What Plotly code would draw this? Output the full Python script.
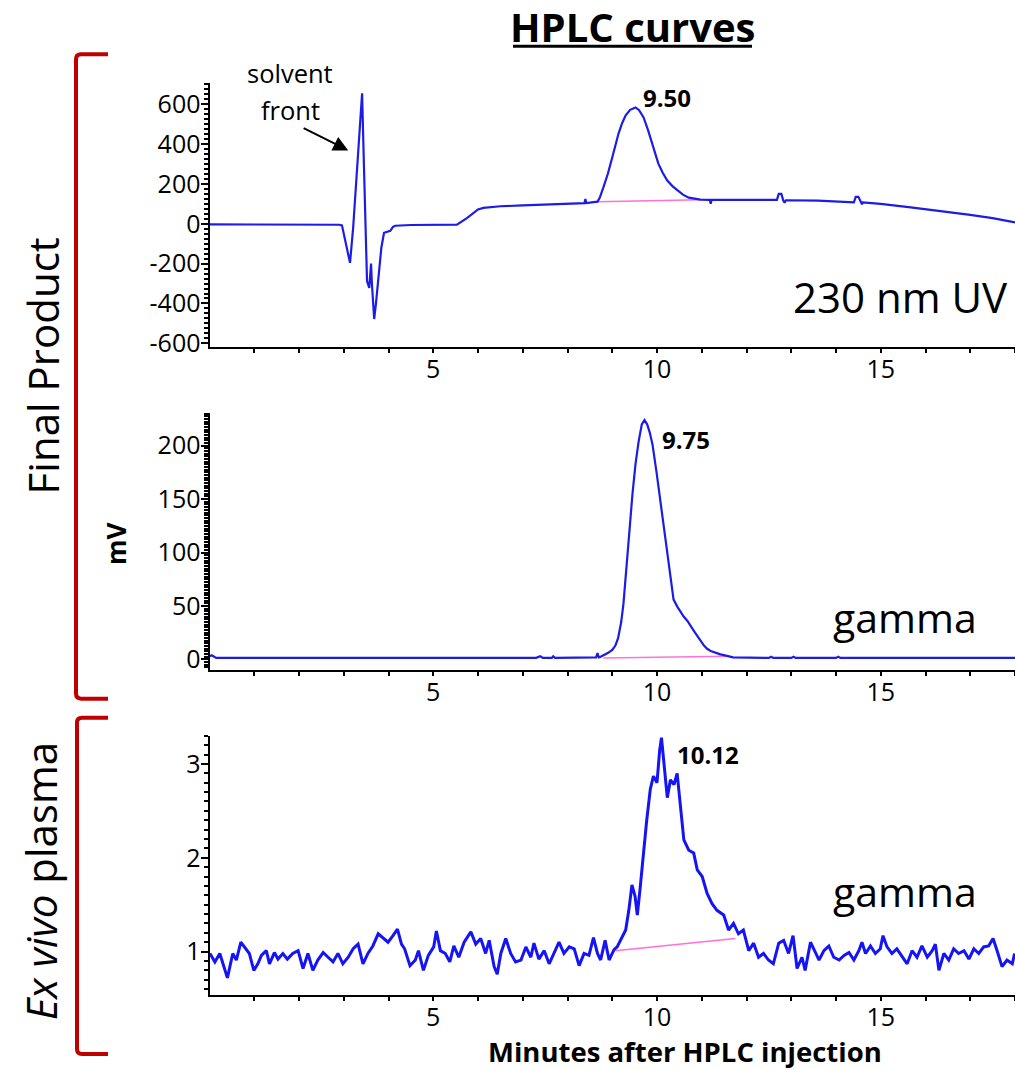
import plotly.graph_objects as go

# ---------------- DATA ----------------
# Panel 1: 230 nm UV trace (final product)
uv_time = [0.0, 1.0, 2.0, 2.9, 2.96, 3.05, 3.14, 3.21, 3.30, 3.41, 3.45, 3.48, 3.52, 3.57,
           3.60, 3.61, 3.63, 3.68, 3.72, 3.77, 3.84, 3.90, 4.04, 4.10, 4.15, 4.50, 5.00,
           5.53, 5.76, 6.00, 6.12, 6.50, 7.00, 7.50, 8.00, 8.38, 8.40, 8.42, 8.67, 8.72,
           8.80, 8.90, 9.00, 9.07, 9.14, 9.22, 9.30, 9.40, 9.52, 9.60, 9.70, 9.80, 9.89,
           9.96, 10.03, 10.13, 10.23, 10.35, 10.46, 10.58, 10.71, 10.85, 10.97, 11.18,
           11.20, 11.22, 12.00, 12.68, 12.72, 12.78, 12.82, 12.85, 12.88, 13.60, 14.40,
           14.44, 14.50, 14.55, 14.58, 14.60, 15.00, 15.67, 16.34, 17.00, 17.50, 18.00]
uv_signal = [-3, -3, -4, -5, -8, -100, -196, -20, 300, 655, 300, -20, -287, -322,
             -240, -200, -302, -478, -400, -287, -120, -45, -35, -15, -10, -6, -5,
             -4, 30, 72, 80, 88, 92, 96, 100, 104, 125, 104, 111, 130,
             181, 250, 333, 395, 453, 505, 544, 572, 584, 570, 534, 470, 403,
             350, 302, 255, 217, 188, 166, 146, 131, 125, 121, 120,
             100, 120, 120, 120, 150, 150, 118, 105, 118, 116, 108,
             135, 135, 107, 98, 107, 100, 82, 65, 45, 28, 7]
uv_base_time = [8.67, 10.97]
uv_base_val = [111, 121]
uv_tick_vals = [-600, -400, -200, 0, 200, 400, 600]
uv_tick_text = ["-600", "-400", "-200", "0", "200", "400", "600"]

# Panel 2: gamma trace (final product)
g1_time = [0.0, 0.05, 0.15, 2.0, 5.0, 7.30, 7.39, 7.45, 7.65, 7.68, 7.72, 8.50, 8.64, 8.67,
           8.70, 8.74, 8.90, 9.00, 9.07, 9.13, 9.20, 9.25, 9.30, 9.37, 9.45, 9.52, 9.59,
           9.62, 9.66, 9.72, 9.78, 9.84, 9.90, 9.99, 10.08, 10.15, 10.23, 10.30, 10.37,
           10.46, 10.52, 10.60, 10.68, 10.75, 10.82, 10.90, 10.98, 11.05, 11.12, 11.20,
           11.40, 11.60, 11.70, 12.50, 12.55, 12.60, 13.00, 13.05, 13.10, 14.00, 14.05,
           14.10, 18.0]
g1_signal = [3, 4, 1.5, 1.5, 1.5, 1.5, 3, 1.5, 1.5, 3, 1.5, 1.5, 2, 6,
             2, 2.5, 6, 9, 13, 20, 35, 52, 75, 113, 154, 183, 204,
             212, 220, 224, 220, 212, 201, 175, 147, 122, 98, 76, 56,
             49, 45, 40, 36, 32, 27, 22, 17, 13, 10, 8,
             5, 3, 2, 1.5, 2.5, 1.5, 1.5, 2.5, 1.5, 1.5, 2.5,
             1.5, 1.5]
g1_base_time = [8.80, 11.60]
g1_base_val = [1.5, 3.0]

# Panel 3: gamma trace (ex vivo plasma)
g2_time = [0.01, 0.12, 0.23, 0.30, 0.40, 0.52, 0.60, 0.70, 0.78, 0.89, 0.99, 1.08, 1.16, 1.27,
           1.34, 1.45, 1.53, 1.64, 1.74, 1.86, 1.98, 2.09, 2.20, 2.31, 2.42, 2.54, 2.65, 2.76,
           2.87, 2.98, 3.10, 3.21, 3.32, 3.43, 3.54, 3.65, 3.77, 3.88, 3.99, 4.10, 4.20, 4.29,
           4.36, 4.48, 4.60, 4.67, 4.78, 4.89, 5.01, 5.07, 5.16, 5.27, 5.37, 5.46, 5.57, 5.69,
           5.84, 5.95, 6.06, 6.17, 6.25, 6.36, 6.43, 6.51, 6.62, 6.73, 6.84, 6.96, 7.07, 7.18,
           7.25, 7.36, 7.48, 7.59, 7.70, 7.81, 7.92, 8.04, 8.15, 8.26, 8.37, 8.48, 8.58, 8.67,
           8.74, 8.84, 8.93, 9.04, 9.11, 9.22, 9.30, 9.37, 9.44, 9.51, 9.56, 9.62, 9.70, 9.77,
           9.85, 9.92, 10.00, 10.06, 10.10, 10.15, 10.23, 10.30, 10.38, 10.45, 10.52, 10.60,
           10.71, 10.82, 10.90, 11.01, 11.12, 11.23, 11.34, 11.49, 11.60, 11.71, 11.82, 11.93,
           12.05, 12.16, 12.27, 12.38, 12.49, 12.60, 12.72, 12.83, 12.94, 13.04, 13.13, 13.24,
           13.31, 13.43, 13.55, 13.62, 13.73, 13.84, 13.95, 14.07, 14.18, 14.29, 14.40, 14.51,
           14.58, 14.66, 14.77, 14.88, 14.99, 15.05, 15.14, 15.25, 15.36, 15.48, 15.59, 15.70,
           15.81, 15.92, 16.04, 16.15, 16.22, 16.30, 16.41, 16.52, 16.63, 16.74, 16.86, 16.97,
           17.08, 17.19, 17.30, 17.41, 17.51, 17.60, 17.71, 17.82, 17.94, 17.99]
g2_signal = [0.98, 0.89, 0.98, 0.87, 0.72, 0.98, 0.91, 1.10, 1.05, 0.98, 0.80, 0.87, 0.96, 1.01,
             0.87, 0.99, 0.92, 0.98, 0.92, 0.98, 1.01, 0.82, 0.98, 0.80, 0.91, 0.99, 0.94, 0.89,
             0.98, 0.87, 0.94, 1.03, 1.08, 0.87, 0.98, 1.06, 1.19, 1.14, 1.10, 1.17, 1.24, 1.08,
             1.03, 0.85, 0.91, 1.01, 0.80, 0.96, 1.05, 1.22, 1.01, 0.98, 0.89, 1.06, 0.94, 1.10,
             1.21, 1.08, 1.14, 0.98, 1.12, 0.84, 0.76, 0.98, 1.14, 0.98, 0.89, 0.91, 1.05, 0.94,
             1.09, 0.92, 1.01, 0.87, 0.98, 1.10, 0.98, 1.05, 1.03, 0.85, 0.98, 0.96, 1.15, 0.98,
             0.91, 1.12, 0.91, 1.02, 1.05, 1.16, 1.23, 1.44, 1.71, 1.59, 1.39, 1.66, 2.08, 2.40,
             2.73, 2.87, 2.80, 3.15, 3.28, 3.05, 2.64, 2.83, 2.78, 2.90, 2.58, 2.19,
             2.08, 2.05, 1.87, 1.80, 1.62, 1.51, 1.44, 1.39, 1.23, 1.30, 1.19, 1.23,
             1.01, 1.09, 0.94, 0.98, 0.91, 0.87, 1.09, 1.12, 0.98, 1.17, 0.82, 0.94,
             0.80, 1.10, 0.98, 0.91, 1.01, 1.06, 0.94, 0.91, 0.96, 0.99, 0.91, 1.01,
             1.10, 0.98, 1.06, 0.98, 1.03, 1.17, 1.05, 0.98, 1.03, 0.94, 0.87, 1.01,
             0.94, 1.06, 0.94, 1.01, 1.08, 0.80, 0.98, 0.91, 1.03, 0.98, 1.01, 0.92,
             1.03, 0.98, 1.05, 1.06, 1.14, 1.01, 0.84, 0.91, 0.87, 0.98]
g2_base_time = [9.07, 11.75]
g2_base_val = [1.01, 1.14]

x_tick_vals = [5, 10, 15]
x_tick_text = ["5", "10", "15"]

# ---------------- LAYOUT HELPERS ----------------
W, H = 1015, 1070
H_EFF = 1054  # observed rendered paper height in the screenshot


def px(x):
    return x / W


def py(y):
    return 1 - y / H_EFF


FONT = "Open Sans"
BLUE = "#1c1ce6"
BLUE3 = "#1414f5"
PINK = "#ff70d8"
RED = "#c00000"

fig = go.Figure()

fig.add_trace(go.Scatter(x=uv_base_time, y=uv_base_val, mode="lines",
                         line=dict(color=PINK, width=1.5), xaxis="x", yaxis="y", showlegend=False))
fig.add_trace(go.Scatter(x=uv_time, y=uv_signal, mode="lines",
                         line=dict(color=BLUE, width=2.2), xaxis="x", yaxis="y", showlegend=False))
fig.add_trace(go.Scatter(x=g1_base_time, y=g1_base_val, mode="lines",
                         line=dict(color=PINK, width=1.5), xaxis="x2", yaxis="y2", showlegend=False))
fig.add_trace(go.Scatter(x=g1_time, y=g1_signal, mode="lines",
                         line=dict(color=BLUE, width=2.2), xaxis="x2", yaxis="y2", showlegend=False))
fig.add_trace(go.Scatter(x=g2_base_time, y=g2_base_val, mode="lines",
                         line=dict(color=PINK, width=1.5), xaxis="x3", yaxis="y3", showlegend=False))
fig.add_trace(go.Scatter(x=g2_time, y=g2_signal, mode="lines",
                         line=dict(color=BLUE3, width=3), xaxis="x3", yaxis="y3", showlegend=False))

xdom = [px(209.5), 1.0]
common_x = dict(domain=xdom, range=[0, 18], showline=True, linewidth=2, linecolor="black",
                showgrid=False, zeroline=False, ticks="outside", ticklen=4, tickwidth=2,
                tickcolor="black", tickmode="array", tickvals=x_tick_vals, ticktext=x_tick_text,
                ticklabelstandoff=-5,
                minor=dict(tickmode="array", tickvals=list(range(1, 19)), ticks="outside",
                           ticklen=4, tickwidth=2, tickcolor="black", showgrid=False),
                tickfont=dict(family=FONT, size=25, color="black"))
common_y = dict(showline=True, linewidth=2, linecolor="black", showgrid=False, zeroline=False,
                ticks="outside", ticklen=7, tickwidth=2, tickcolor="black",
                ticklabelstandoff=-5,
                tickfont=dict(family=FONT, size=25, color="black"))

fig.update_layout(
    width=W, height=H, margin=dict(l=0, r=0, t=0, b=0),
    paper_bgcolor="white", plot_bgcolor="white",
    xaxis=dict(common_x, anchor="y"),
    xaxis2=dict(common_x, anchor="y2"),
    xaxis3=dict(common_x, anchor="y3"),
    yaxis=dict(common_y, anchor="x", domain=[py(346), py(83)], range=[-620, 705],
               tickmode="array", tickvals=uv_tick_vals, ticktext=uv_tick_text,
               minor=dict(tickmode="linear", tick0=0, dtick=25, ticks="outside", ticklen=4,
                          tickwidth=1.5, tickcolor="black")),
    yaxis2=dict(common_y, anchor="x2", domain=[py(667), py(411)], range=[-9.4, 231],
                tickmode="linear", tick0=0, dtick=50,
                minor=dict(dtick=2.5, ticks="outside", ticklen=4, tickwidth=1.5, tickcolor="black")),
    yaxis3=dict(common_y, anchor="x3", domain=[py(991), py(733)], range=[0.54, 3.30],
                tickmode="linear", tick0=0, dtick=1,
                minor=dict(dtick=0.1, ticks="outside", ticklen=4, tickwidth=1.5, tickcolor="black")),
)

ann = []
# Title
ann.append(dict(text="<b>HPLC curves</b>", x=px(633), y=py(26.5), xref="paper", yref="paper",
                showarrow=False, font=dict(family=FONT, size=40, color="black"),
                xanchor="center", yanchor="middle"))
# Side labels
ann.append(dict(text="Final Product", x=px(42), y=py(365), xref="paper", yref="paper",
                showarrow=False, textangle=-90, font=dict(family=FONT, size=42, color="black"),
                xanchor="center", yanchor="middle"))
ann.append(dict(text="<i>Ex vivo</i> plasma", x=px(40), y=py(878), xref="paper", yref="paper",
                showarrow=False, textangle=-90, font=dict(family=FONT, size=42, color="black"),
                xanchor="center", yanchor="middle"))
ann.append(dict(text="<b>mV</b>", x=px(116), y=py(542), xref="paper", yref="paper",
                showarrow=False, textangle=-90, font=dict(family=FONT, size=26, color="black"),
                xanchor="center", yanchor="middle"))
ann.append(dict(text="<b>Minutes after HPLC injection</b>", x=px(685), y=py(1048), xref="paper",
                yref="paper", showarrow=False, font=dict(family=FONT, size=27.5, color="black"),
                xanchor="center", yanchor="middle"))
# Panel 1 labels
ann.append(dict(text="solvent", x=px(290), y=py(73), xref="paper", yref="paper", showarrow=False,
                xanchor="center", yanchor="middle",
                font=dict(family=FONT, size=25.5, color="black")))
ann.append(dict(text="front", x=px(290), y=py(110), xref="paper", yref="paper", showarrow=False,
                xanchor="center", yanchor="middle",
                font=dict(family=FONT, size=25.5, color="black")))
ann.append(dict(text="", x=3.10, y=368, ax=2.07, ay=484, xref="x", yref="y", axref="x",
                ayref="y", showarrow=True, arrowhead=2, arrowsize=1.5, arrowwidth=2,
                arrowcolor="black", standoff=0, startstandoff=0))
ann.append(dict(text="<b>9.50</b>", x=10.23, y=635, xref="x", yref="y", showarrow=False,
                font=dict(family=FONT, size=24, color="black")))
ann.append(dict(text="230 nm UV", x=px(1010), y=py(295), xref="paper", yref="paper",
                showarrow=False, xanchor="right", yanchor="middle",
                font=dict(family=FONT, size=42, color="black")))
# Panel 2 labels
ann.append(dict(text="<b>9.75</b>", x=10.64, y=206, xref="x2", yref="y2", showarrow=False,
                font=dict(family=FONT, size=24, color="black")))
ann.append(dict(text="gamma", x=15.54, y=40, xref="x2", yref="y2", showarrow=False,
                font=dict(family=FONT, size=41, color="black")))
# Panel 3 labels
ann.append(dict(text="<b>10.12</b>", x=11.15, y=3.10, xref="x3", yref="y3", showarrow=False,
                font=dict(family=FONT, size=24, color="black")))
ann.append(dict(text="gamma", x=15.54, y=1.65, xref="x3", yref="y3", showarrow=False,
                font=dict(family=FONT, size=41, color="black")))
fig.update_layout(annotations=ann)


def bracket(xv, y0, y1, xend, r=5):
    return (f"M {px(xend)},{py(y0)} L {px(xv + r)},{py(y0)} "
            f"Q {px(xv)},{py(y0)} {px(xv)},{py(y0 + r)} "
            f"L {px(xv)},{py(y1 - r)} "
            f"Q {px(xv)},{py(y1)} {px(xv + r)},{py(y1)} L {px(xend)},{py(y1)}")


shapes = [
    dict(type="path", xref="paper", yref="paper", path=bracket(76, 54, 696, 108),
         line=dict(color=RED, width=4)),
    dict(type="path", xref="paper", yref="paper", path=bracket(77, 715, 1050, 108),
         line=dict(color=RED, width=4)),
    dict(type="line", xref="paper", yref="paper", x0=px(513), x1=px(752), y0=py(46), y1=py(46),
         line=dict(color="black", width=3)),
]
fig.update_layout(shapes=shapes)

fig.write_html("out.html", config={"displayModeBar": False},
               post_script="document.body.style.margin='0px';document.body.style.overflow='hidden';")
